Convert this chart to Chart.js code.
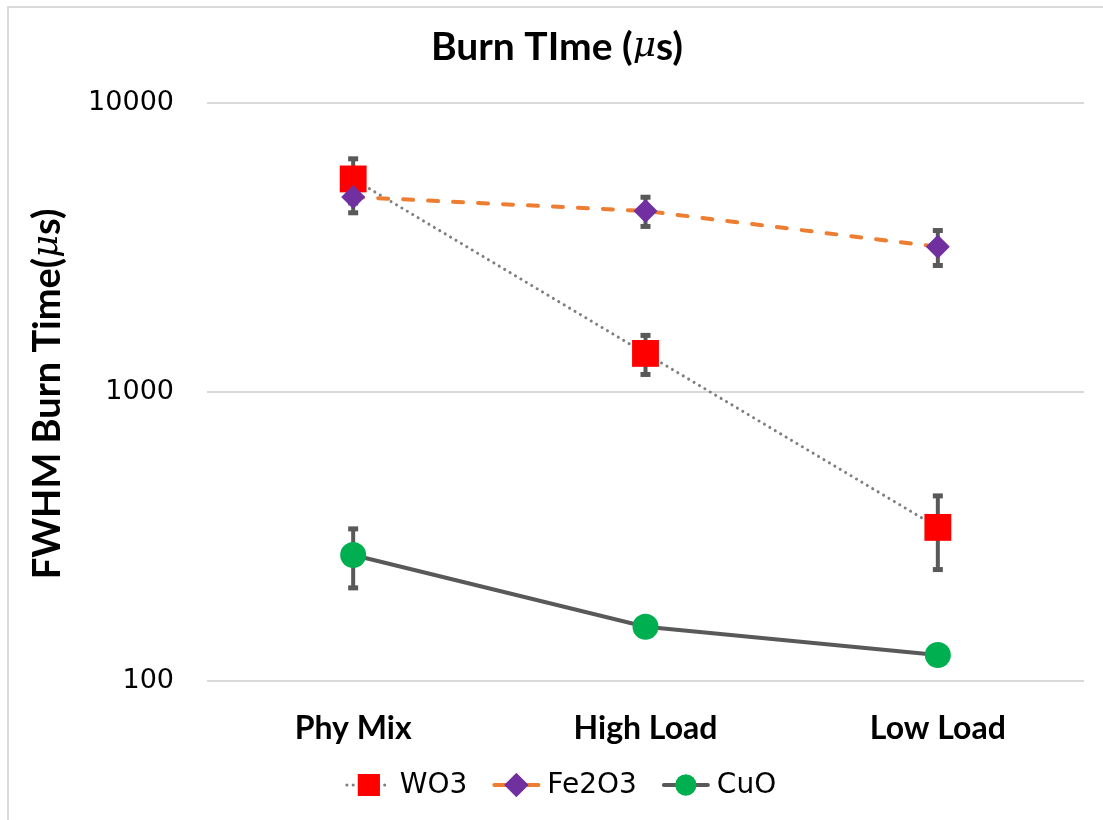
<!DOCTYPE html>
<html>
<head>
<meta charset="utf-8">
<script src="https://cdn.jsdelivr.net/npm/chart.js@4/dist/chart.umd.min.js"></script>
<style>
  html, body { margin: 0; padding: 0; background: #fff; }
  #wrap { width: 1103px; height: 820px; position: relative; }
</style>
</head>
<body>
<div id="wrap"><canvas id="c" width="1103" height="820"></canvas></div>
<script>
// Burn time per sample preparation (FWHM, microseconds)
const categories = ['Phy Mix', 'High Load', 'Low Load'];
const wo3 = [5460, 1360, 340];
const wo3Err = [950, 210, 97];
const fe2o3 = [4730, 4230, 3180];
const fe2o3Err = [560, 490, 440];
const cuo = [273, 154, 123];
const cuoErr = [63, 8, 8];
const yTicks = [100, 1000, 10000];

const seriesNames = ['WO3', 'Fe2O3', 'CuO'];

const BOLD = '"Lato", "Open Sans", sans-serif';
const PLAIN = '"DejaVu Sans", sans-serif';
const MATH = '"DejaVu Serif", serif';

// text made of runs with different fonts, centred on (cx, cy)
function drawRich(ctx, parts, cx, cy) {
  let total = 0;
  parts.forEach(p => { ctx.font = p.font; p.w = ctx.measureText(p.text).width; total += p.w; });
  let x = cx - total / 2;
  ctx.textBaseline = 'middle';
  ctx.textAlign = 'left';
  ctx.fillStyle = '#000';
  parts.forEach(p => { ctx.font = p.font; ctx.fillText(p.text, x, cy); x += p.w; });
}

// vertical error bars behind the series
const errorBars = {
  id: 'errorBars',
  beforeDatasetsDraw(chart) {
    const ctx = chart.ctx;
    const xs = chart.scales.x, ys = chart.scales.y;
    ctx.save();
    ctx.strokeStyle = '#595959';
    ctx.fillStyle = '#595959';
    ctx.lineWidth = 4;
    chart.data.datasets.forEach(ds => {
      ds.data.forEach((v, i) => {
        const e = ds.errors[i];
        const x = xs.getPixelForValue(i);
        const yT = ys.getPixelForValue(v + e);
        const yB = ys.getPixelForValue(v - e);
        ctx.beginPath();
        ctx.moveTo(x, yT);
        ctx.lineTo(x, yB);
        ctx.stroke();
        ctx.fillRect(x - 5, yT - 2.5, 10, 5);
        ctx.fillRect(x - 5, yB - 2.5, 10, 5);
      });
    });
    ctx.restore();
  }
};

// frame, title, axis title and legend
const decorations = {
  id: 'decorations',
  afterDraw(chart) {
    const ctx = chart.ctx;
    const area = chart.chartArea;
    ctx.save();
    ctx.fillStyle = '#d9d9d9';
    ctx.fillRect(7, 6, 1096, 2);
    ctx.fillRect(7, 6, 2, 814);

    drawRich(ctx, [
      { text: 'Burn TIme (', font: 'bold 39px ' + BOLD },
      { text: 'μ', font: 'italic 36px ' + MATH },
      { text: 's)', font: 'bold 39px ' + BOLD }
    ], 557, 47);

    ctx.save();
    ctx.translate(48, (area.top + area.bottom) / 2 + 2);
    ctx.rotate(-Math.PI / 2);
    drawRich(ctx, [
      { text: 'FWHM Burn Time(', font: 'bold 38px ' + BOLD },
      { text: 'μ', font: 'italic 35px ' + MATH },
      { text: 's)', font: 'bold 38px ' + BOLD }
    ], 0, 0);
    ctx.restore();

    // legend
    const font = '28px ' + PLAIN;
    ctx.font = font;
    const lineLen = 46, textGap = 8, itemGap = 26;
    const items = chart.data.datasets.map(ds => ({ ds, w: ctx.measureText(ds.label).width }));
    let total = 0;
    items.forEach((it, k) => { total += lineLen + textGap + it.w + (k ? itemGap : 0); });
    let x = 561 - total / 2;
    const y = 785;
    items.forEach(it => {
      const ds = it.ds;
      ctx.save();
      ctx.strokeStyle = ds.borderColor;
      ctx.lineWidth = ds.borderWidth;
      ctx.lineCap = ds.borderCapStyle || 'butt';
      ctx.setLineDash(ds.legendDash || []);
      ctx.beginPath();
      ctx.moveTo(x + 1, y);
      ctx.lineTo(x + lineLen - 1, y);
      ctx.stroke();
      ctx.restore();
      ctx.save();
      ctx.fillStyle = ds.pointBackgroundColor;
      Chart.helpers.drawPoint(ctx, {
        pointStyle: ds.pointStyle, rotation: 0, borderWidth: 0,
        radius: ds.legendRadius
      }, x + lineLen / 2, y);
      ctx.fill();
      ctx.restore();
      ctx.fillStyle = '#000';
      ctx.font = font;
      ctx.textAlign = 'left';
      ctx.textBaseline = 'middle';
      ctx.fillText(ds.label, x + lineLen + textGap, y + 1);
      x += lineLen + textGap + it.w + itemGap;
    });
    ctx.restore();
  }
};

new Chart(document.getElementById('c'), {
  type: 'line',
  data: {
    labels: categories,
    datasets: [
      {
        label: seriesNames[0], data: wo3, errors: wo3Err, order: 2,
        borderColor: '#7f7f7f', borderWidth: 3, borderDash: [0.1, 6.2], borderCapStyle: 'round',
        legendDash: [0.1, 6.2],
        pointStyle: 'rect', pointRadius: 19, legendRadius: 15.5,
        pointBackgroundColor: '#ff0000', pointBorderColor: '#ff0000', pointBorderWidth: 0
      },
      {
        label: seriesNames[1], data: fe2o3, errors: fe2o3Err, order: 1,
        borderColor: '#ed7d31', borderWidth: 4, borderDash: [10, 15], borderCapStyle: 'round',
        legendDash: [],
        pointStyle: 'rectRot', pointRadius: 12, legendRadius: 12,
        pointBackgroundColor: '#7030a0', pointBorderColor: '#7030a0', pointBorderWidth: 0
      },
      {
        label: seriesNames[2], data: cuo, errors: cuoErr, order: 0,
        borderColor: '#595959', borderWidth: 4, borderCapStyle: 'round',
        legendDash: [],
        pointStyle: 'circle', pointRadius: 13, legendRadius: 10.5,
        pointBackgroundColor: '#00b050', pointBorderColor: '#00b050', pointBorderWidth: 0
      }
    ]
  },
  options: {
    responsive: false,
    devicePixelRatio: 1,
    animation: false,
    layout: { padding: { top: 103, right: 9, left: 0, bottom: 0 } },
    plugins: { legend: { display: false }, title: { display: false }, tooltip: { enabled: false } },
    elements: { line: { tension: 0 } },
    scales: {
      x: {
        type: 'category',
        offset: true,
        grid: { display: false, drawTicks: false },
        border: { display: false },
        ticks: { color: '#000', padding: 28, font: { family: BOLD, size: 32, weight: 'bold' } },
        afterFit(axis) { axis.height = 139; }
      },
      y: {
        type: 'logarithmic',
        min: 100, max: 10000,
        grid: { color: '#d9d9d9', lineWidth: 2, drawTicks: false },
        border: { display: false },
        ticks: {
          color: '#000', padding: 33, font: { family: PLAIN, size: 27 },
          callback: v => String(v)
        },
        afterBuildTicks(axis) { axis.ticks = yTicks.map(v => ({ value: v })); },
        afterFit(axis) { axis.width = 207; }
      }
    }
  },
  plugins: [errorBars, decorations]
});
</script>
</body>
</html>
